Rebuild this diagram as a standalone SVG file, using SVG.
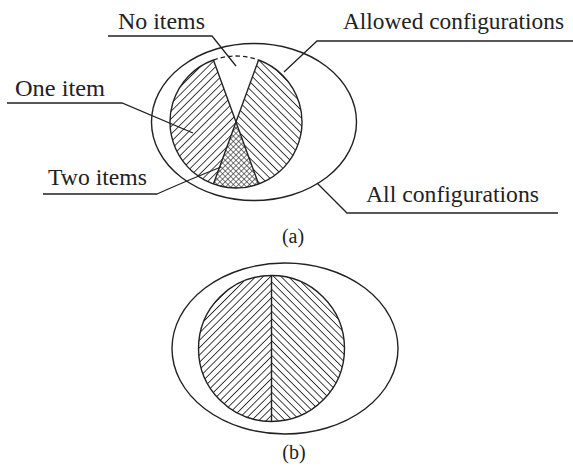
<svg xmlns="http://www.w3.org/2000/svg" width="573" height="466" viewBox="0 0 573 466">
<style>
.ln{fill:none;stroke:#222222;stroke-width:1.4}
.lead{fill:none;stroke:#222222;stroke-width:1.3}
.lbl{font-family:"Liberation Serif","DejaVu Serif",serif;font-size:23px;fill:#222222}
.cap{font-family:"Liberation Serif","DejaVu Serif",serif;font-size:20px;fill:#222222;text-anchor:middle}
</style>
<defs>
<pattern id="fwdA" patternUnits="userSpaceOnUse" x="236" y="122" width="5.4" height="10" patternTransform="rotate(45 236 122)"><line x1="0" y1="-1" x2="0" y2="11" stroke="#222222" stroke-width="1.7"/></pattern>
<pattern id="bckA" patternUnits="userSpaceOnUse" x="236" y="122" width="5.4" height="10" patternTransform="rotate(-45 236 122)"><line x1="0" y1="-1" x2="0" y2="11" stroke="#222222" stroke-width="1.7"/></pattern>
<pattern id="crossA" patternUnits="userSpaceOnUse" x="236" y="122" width="3.8" height="3.8" patternTransform="rotate(45 236 122)"><line x1="0" y1="-1" x2="0" y2="4.8" stroke="#222222" stroke-width="1.2"/><line x1="-1" y1="0" x2="4.8" y2="0" stroke="#222222" stroke-width="1.2"/></pattern>
<pattern id="fwdB" patternUnits="userSpaceOnUse" x="271.5" y="348.5" width="5.2" height="10" patternTransform="rotate(45 271.5 348.5)"><line x1="0" y1="-1" x2="0" y2="11" stroke="#222222" stroke-width="1.7"/></pattern>
<pattern id="bckB" patternUnits="userSpaceOnUse" x="271.5" y="348.5" width="5.2" height="10" patternTransform="rotate(-45 271.5 348.5)"><line x1="0" y1="-1" x2="0" y2="11" stroke="#222222" stroke-width="1.7"/></pattern>
</defs>
<rect width="573" height="466" fill="#ffffff"/>

<g id="all-configurations-a">
<ellipse class="ln" cx="254" cy="122" rx="102.5" ry="78.5"/>
</g>
<g id="one-item-left">
<path d="M213.427,59.98 L258.573,184.02 A66,66 0 1,1 213.427,59.98 Z" fill="url(#fwdA)"/>
</g>
<g id="one-item-right">
<path d="M258.573,59.98 L213.427,184.02 A66,66 0 1,0 258.573,59.98 Z" fill="url(#bckA)"/>
</g>
<g id="two-items">
<path d="M236,122 L258.573,184.02 A66,66 0 0,1 213.427,184.02 Z" fill="#ffffff"/>
<path d="M236,122 L258.573,184.02 A66,66 0 0,1 213.427,184.02 Z" fill="url(#crossA)"/>
</g>
<g id="allowed-configurations">
<path class="ln" d="M258.573,59.98 A66,66 0 1,1 213.427,59.98"/>
<path class="ln" d="M213.427,59.98 A66,66 0 0,1 258.573,59.98" stroke-dasharray="4.5 3"/>
<line class="ln" x1="213.427" y1="59.98" x2="258.573" y2="184.02"/>
<line class="ln" x1="258.573" y1="59.98" x2="213.427" y2="184.02"/>
</g>

<g id="labels-a">
<text class="lbl" x="118" y="29" textLength="87" lengthAdjust="spacingAndGlyphs">No items</text>
<text class="lbl" x="343" y="29" textLength="221" lengthAdjust="spacingAndGlyphs">Allowed configurations</text>
<text class="lbl" x="15" y="96" textLength="90" lengthAdjust="spacingAndGlyphs">One item</text>
<text class="lbl" x="48" y="185" textLength="99" lengthAdjust="spacingAndGlyphs">Two items</text>
<text class="lbl" x="366" y="202" textLength="173" lengthAdjust="spacingAndGlyphs">All configurations</text>
</g>

<g id="connectors">
<polyline class="lead" points="108,36 212,36 236,66"/>
<polyline class="lead" points="573,41 317,41 284,72"/>
<polyline class="lead" points="7,103 122,103 193,133"/>
<path class="lead" d="M43,194 L157,194 Q186,181 221,167"/>
<polyline class="lead" points="558,213 347,213 317,183"/>
</g>

<g id="caption-a"><text class="cap" x="293" y="243">(a)</text></g>

<g id="all-configurations-b">
<ellipse class="ln" cx="285" cy="348.5" rx="113" ry="85.5"/>
</g>
<g id="allowed-left-b">
<path d="M271.5,275.5 A73,73 0 0,0 271.5,421.5 Z" fill="url(#fwdB)"/>
</g>
<g id="allowed-right-b">
<path d="M271.5,275.5 A73,73 0 0,1 271.5,421.5 Z" fill="url(#bckB)"/>
</g>
<g id="allowed-outline-b">
<circle class="ln" cx="271.5" cy="348.5" r="73"/>
<line class="ln" x1="271.5" y1="275.5" x2="271.5" y2="421.5"/>
</g>
<g id="caption-b"><text class="cap" x="294" y="459">(b)</text></g>
</svg>
